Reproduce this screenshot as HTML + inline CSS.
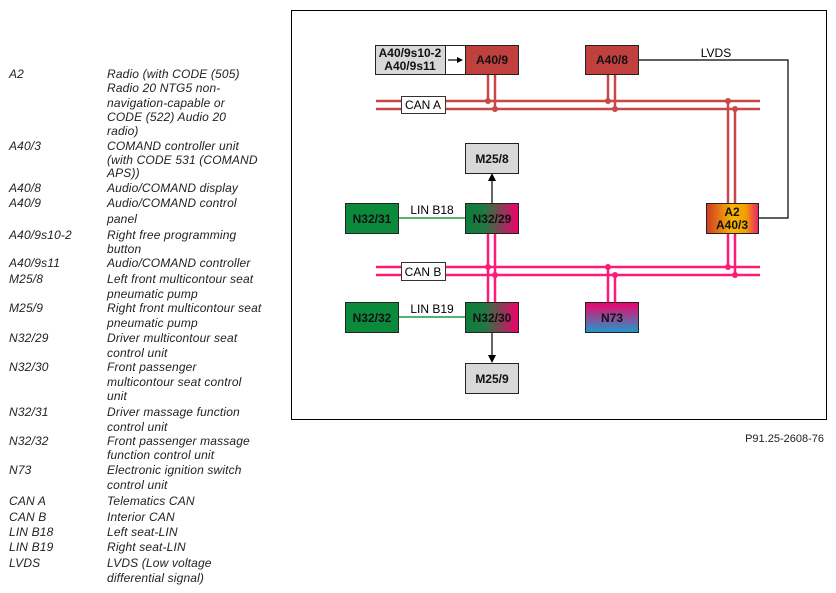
<!DOCTYPE html>
<html><head><meta charset="utf-8"><style>
body{margin:0;width:836px;height:593px;background:#fff;position:relative;overflow:hidden;font-family:"Liberation Sans",sans-serif}
.l{position:absolute;font-size:12px;letter-spacing:0.15px;font-style:italic;color:#222;line-height:14px;white-space:nowrap}
</style></head><body>
<div class="l" style="left:9px;top:67px">A2</div>
<div class="l" style="left:107px;top:67px">Radio (with CODE (505)</div>
<div class="l" style="left:107px;top:81px">Radio 20 NTG5 non-</div>
<div class="l" style="left:107px;top:96px">navigation-capable or</div>
<div class="l" style="left:107px;top:110px">CODE (522) Audio 20</div>
<div class="l" style="left:107px;top:124px">radio)</div>
<div class="l" style="left:9px;top:139px">A40/3</div>
<div class="l" style="left:107px;top:139px">COMAND controller unit</div>
<div class="l" style="left:107px;top:153px">(with CODE 531 (COMAND</div>
<div class="l" style="left:107px;top:166px">APS))</div>
<div class="l" style="left:9px;top:181px">A40/8</div>
<div class="l" style="left:107px;top:181px">Audio/COMAND display</div>
<div class="l" style="left:9px;top:196px">A40/9</div>
<div class="l" style="left:107px;top:196px">Audio/COMAND control</div>
<div class="l" style="left:107px;top:212px">panel</div>
<div class="l" style="left:9px;top:228px">A40/9s10-2</div>
<div class="l" style="left:107px;top:228px">Right free programming</div>
<div class="l" style="left:107px;top:242px">button</div>
<div class="l" style="left:9px;top:256px">A40/9s11</div>
<div class="l" style="left:107px;top:256px">Audio/COMAND controller</div>
<div class="l" style="left:9px;top:272px">M25/8</div>
<div class="l" style="left:107px;top:272px">Left front multicontour seat</div>
<div class="l" style="left:107px;top:287px">pneumatic pump</div>
<div class="l" style="left:9px;top:301px">M25/9</div>
<div class="l" style="left:107px;top:301px">Right front multicontour seat</div>
<div class="l" style="left:107px;top:316px">pneumatic pump</div>
<div class="l" style="left:9px;top:331px">N32/29</div>
<div class="l" style="left:107px;top:331px">Driver multicontour seat</div>
<div class="l" style="left:107px;top:346px">control unit</div>
<div class="l" style="left:9px;top:360px">N32/30</div>
<div class="l" style="left:107px;top:360px">Front passenger</div>
<div class="l" style="left:107px;top:375px">multicontour seat control</div>
<div class="l" style="left:107px;top:389px">unit</div>
<div class="l" style="left:9px;top:405px">N32/31</div>
<div class="l" style="left:107px;top:405px">Driver massage function</div>
<div class="l" style="left:107px;top:420px">control unit</div>
<div class="l" style="left:9px;top:434px">N32/32</div>
<div class="l" style="left:107px;top:434px">Front passenger massage</div>
<div class="l" style="left:107px;top:448px">function control unit</div>
<div class="l" style="left:9px;top:463px">N73</div>
<div class="l" style="left:107px;top:463px">Electronic ignition switch</div>
<div class="l" style="left:107px;top:478px">control unit</div>
<div class="l" style="left:9px;top:494px">CAN A</div>
<div class="l" style="left:107px;top:494px">Telematics CAN</div>
<div class="l" style="left:9px;top:510px">CAN B</div>
<div class="l" style="left:107px;top:510px">Interior CAN</div>
<div class="l" style="left:9px;top:525px">LIN B18</div>
<div class="l" style="left:107px;top:525px">Left seat-LIN</div>
<div class="l" style="left:9px;top:540px">LIN B19</div>
<div class="l" style="left:107px;top:540px">Right seat-LIN</div>
<div class="l" style="left:9px;top:556px">LVDS</div>
<div class="l" style="left:107px;top:556px">LVDS (Low voltage</div>
<div class="l" style="left:107px;top:571px">differential signal)</div>

<svg width="836" height="593" style="position:absolute;left:0;top:0" font-family="Liberation Sans, sans-serif">
<defs>
<linearGradient id="gm" x1="0" x2="1"><stop offset="0" stop-color="#0b7d3a"/><stop offset="0.35" stop-color="#1f7a40"/><stop offset="1" stop-color="#f0006c"/></linearGradient>
<linearGradient id="nb" x1="0" y1="0" x2="0" y2="1"><stop offset="0" stop-color="#f0006c"/><stop offset="0.5" stop-color="#8a4f9a"/><stop offset="1" stop-color="#1f98cc"/></linearGradient>
<linearGradient id="a2" x1="0" x2="1"><stop offset="0" stop-color="#d03a24"/><stop offset="0.5" stop-color="#f7b800"/><stop offset="0.75" stop-color="#f2a000"/><stop offset="1" stop-color="#e8206a"/></linearGradient>
</defs>
<rect x="291.5" y="10.5" width="535" height="409" fill="none" stroke="#000"/>
<polyline points="638,60 788,60 788,218 758,218" fill="none" stroke="#000" stroke-width="1.2"/>
<text x="716" y="57" font-size="12" text-anchor="middle">LVDS</text>
<g stroke="#c84848" stroke-width="2.5" fill="none">
<line x1="376" y1="101" x2="760" y2="101"/><line x1="376" y1="109" x2="760" y2="109"/>
<line x1="488" y1="74" x2="488" y2="101"/><line x1="495" y1="74" x2="495" y2="109"/>
<line x1="608" y1="74" x2="608" y2="101"/><line x1="615" y1="74" x2="615" y2="109"/>
<line x1="728" y1="101" x2="728" y2="203"/><line x1="735" y1="109" x2="735" y2="203"/>
</g>
<g fill="#c84848"><circle cx="488" cy="101" r="3"/><circle cx="495" cy="109" r="3"/><circle cx="608" cy="101" r="3"/><circle cx="615" cy="109" r="3"/><circle cx="728" cy="101" r="3"/><circle cx="735" cy="109" r="3"/></g>
<g stroke="#ff1a7a" stroke-width="2.5" fill="none">
<line x1="376" y1="267" x2="760" y2="267"/><line x1="376" y1="275" x2="760" y2="275"/>
<line x1="488" y1="233" x2="488" y2="302"/><line x1="495" y1="233" x2="495" y2="302"/>
<line x1="608" y1="267" x2="608" y2="302"/><line x1="615" y1="275" x2="615" y2="302"/>
<line x1="728" y1="233" x2="728" y2="267"/><line x1="735" y1="233" x2="735" y2="275"/>
</g>
<g fill="#ff1a7a"><circle cx="488" cy="267" r="3"/><circle cx="495" cy="275" r="3"/><circle cx="608" cy="267" r="3"/><circle cx="615" cy="275" r="3"/><circle cx="728" cy="267" r="3"/><circle cx="735" cy="275" r="3"/></g>
<rect x="401.5" y="96.5" width="44" height="17" fill="#fff" stroke="#333"/>
<text x="423" y="109" font-size="12" text-anchor="middle">CAN A</text>
<rect x="401.5" y="262.5" width="44" height="18" fill="#fff" stroke="#333"/>
<text x="423" y="276" font-size="12" text-anchor="middle">CAN B</text>
<line x1="398" y1="218" x2="465" y2="218" stroke="#1a9a40" stroke-width="1.5"/>
<text x="432" y="214" font-size="12" text-anchor="middle">LIN B18</text>
<line x1="398" y1="317" x2="465" y2="317" stroke="#1a9a40" stroke-width="1.5"/>
<text x="432" y="313" font-size="12" text-anchor="middle">LIN B19</text>
<line x1="492" y1="203" x2="492" y2="180" stroke="#000" stroke-width="1.2"/><polygon points="488,181 496,181 492,173" fill="#000"/>
<line x1="492" y1="332" x2="492" y2="356" stroke="#000" stroke-width="1.2"/><polygon points="488,355 496,355 492,363" fill="#000"/>
<g stroke="#222" stroke-width="1">
<rect x="375.5" y="45.5" width="70" height="29" fill="#d8d8d8"/>
<rect x="445.5" y="45.5" width="20" height="29" fill="#fff"/>
<rect x="465.5" y="45.5" width="53" height="29" fill="#c0403e"/>
<rect x="585.5" y="45.5" width="53" height="29" fill="#c0403e"/>
<rect x="465.5" y="143.5" width="53" height="30" fill="#d8d8d8"/>
<rect x="345.5" y="203.5" width="53" height="30" fill="#0a8a3a"/>
<rect x="465.5" y="203.5" width="53" height="30" fill="url(#gm)"/>
<rect x="706.5" y="203.5" width="52" height="30" fill="url(#a2)"/>
<rect x="345.5" y="302.5" width="53" height="30" fill="#0a8a3a"/>
<rect x="465.5" y="302.5" width="53" height="30" fill="url(#gm)"/>
<rect x="585.5" y="302.5" width="53" height="30" fill="url(#nb)"/>
<rect x="465.5" y="363.5" width="53" height="30" fill="#d8d8d8"/>
</g>
<line x1="448" y1="60" x2="458" y2="60" stroke="#000" stroke-width="1.2"/><polygon points="457,57 457,63 463,60" fill="#000"/>
<g font-size="12" font-weight="bold" text-anchor="middle" fill="#111">
<text x="410" y="57">A40/9s10-2</text><text x="410" y="70">A40/9s11</text>
<text x="492" y="64">A40/9</text>
<text x="612" y="64">A40/8</text>
<text x="492" y="163">M25/8</text>
<text x="372" y="223">N32/31</text>
<text x="492" y="223">N32/29</text>
<text x="732" y="216">A2</text><text x="732" y="229">A40/3</text>
<text x="372" y="322">N32/32</text>
<text x="492" y="322">N32/30</text>
<text x="612" y="322">N73</text>
<text x="492" y="383">M25/9</text>
</g>
<text x="824" y="442" font-size="11" text-anchor="end" fill="#222">P91.25-2608-76</text>
</svg>
</body></html>
